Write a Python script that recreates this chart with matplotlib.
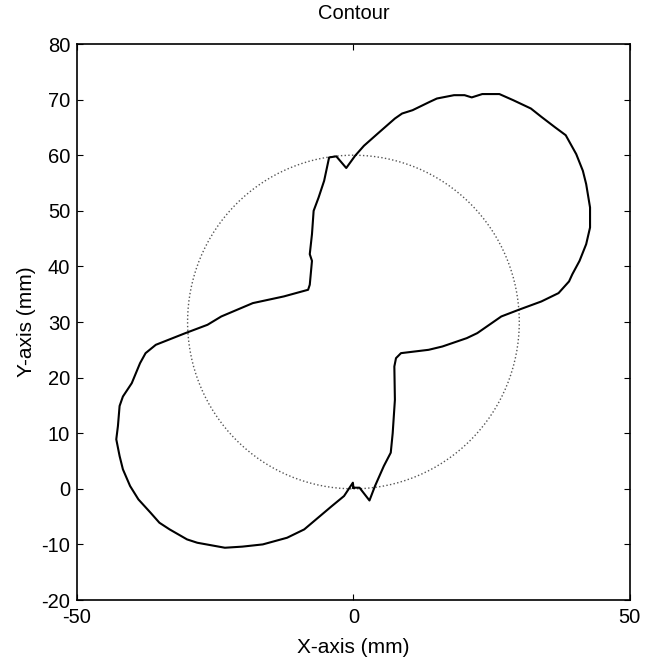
import matplotlib
matplotlib.use("Agg")
import matplotlib.pyplot as plt
from matplotlib.patches import Circle

plt.rcParams['font.family'] = ['Liberation Sans', 'DejaVu Sans']
plt.rcParams['axes.unicode_minus'] = False

# measured contour (mm), traced round the closed path
contour_x = [0.0, 1.1, 2.9, 3.9, 5.5, 6.75, 7.1, 7.5, 7.4, 7.7, 8.6, 13.6, 16.1, 20.5,
             22.4, 26.75, 29.9, 34.0, 37.1, 39.0, 39.6, 40.9, 42.1, 42.8, 42.8, 42.1,
             41.5, 40.3, 38.4, 36.5, 34.0, 32.1, 28.9, 26.4, 23.3, 21.4, 20.1, 18.2,
             15.1, 13.8, 10.7, 8.8, 7.5, 4.4, 1.9, 0.3, -1.3, -3.1, -4.4, -5.3, -6.3,
             -7.2, -7.5, -7.9, -7.5, -7.9, -8.2, -12.6, -18.2, -23.9, -26.4, -30.4,
             -35.75, -37.6, -38.6, -40.1, -41.7, -42.3, -42.6, -42.9, -42.3, -41.7,
             -40.4, -38.9, -36.7, -35.1, -33.25, -30.1, -28.25, -23.25, -20.1, -16.4,
             -12.0, -8.9, -3.9, -1.7, -0.1, 0.0]
contour_y = [0.2, 0.2, -2.1, 0.5, 4.1, 6.5, 10.0, 16.0, 22.0, 23.5, 24.4, 25.0, 25.6, 27.1,
             28.0, 31.0, 32.2, 33.7, 35.2, 37.3, 38.6, 41.0, 44.0, 47.0, 50.6, 54.8,
             57.2, 60.2, 63.6, 65.0, 66.9, 68.4, 69.9, 71.0, 71.0, 70.4, 70.8, 70.8,
             70.2, 69.6, 68.1, 67.5, 66.6, 63.9, 61.7, 59.9, 57.7, 59.8, 59.6, 55.4, 52.4,
             50.0, 45.8, 42.2, 41.0, 36.7, 35.8, 34.6, 33.4, 31.0, 29.5, 28.0,
             25.9, 24.4, 22.6, 19.0, 16.6, 14.9, 11.3, 8.9, 5.9, 3.5,
             0.5, -1.9, -4.3, -6.1, -7.3, -9.1, -9.7, -10.6, -10.4, -10.0,
             -8.8, -7.3, -3.1, -1.3, 1.1, 0.2]

# nominal circle
circle_center = (0, 30)
circle_radius = 30

x_ticks = [-50, 0, 50]
y_ticks = [-20, -10, 0, 10, 20, 30, 40, 50, 60, 70, 80]

fig = plt.figure(figsize=(6.5, 6.6), dpi=100)
ax = fig.add_axes([0.1185, 0.0909, 0.8505, 0.8424])

ax.add_patch(Circle(circle_center, circle_radius, fill=False, linestyle=':',
                    edgecolor='#555555', linewidth=1.0))
ax.plot(contour_x, contour_y, color='black', linewidth=1.5)

ax.set_xlim(-50, 50)
ax.set_ylim(-20, 80)
ax.set_xticks(x_ticks)
ax.set_yticks(y_ticks)
ax.tick_params(direction='in', top=True, right=True, labelsize=14.5, length=4)
ax.tick_params(axis='x', pad=6)
ax.tick_params(axis='y', pad=5)
for s in ax.spines.values():
    s.set_linewidth(1.2)

ax.set_title('Contour', fontsize=14.5, pad=18)
ax.set_xlabel('X-axis (mm)', fontsize=15, labelpad=8)
ax.set_ylabel('Y-axis (mm)', fontsize=15, labelpad=4)

fig.savefig('out.png', dpi=100)
